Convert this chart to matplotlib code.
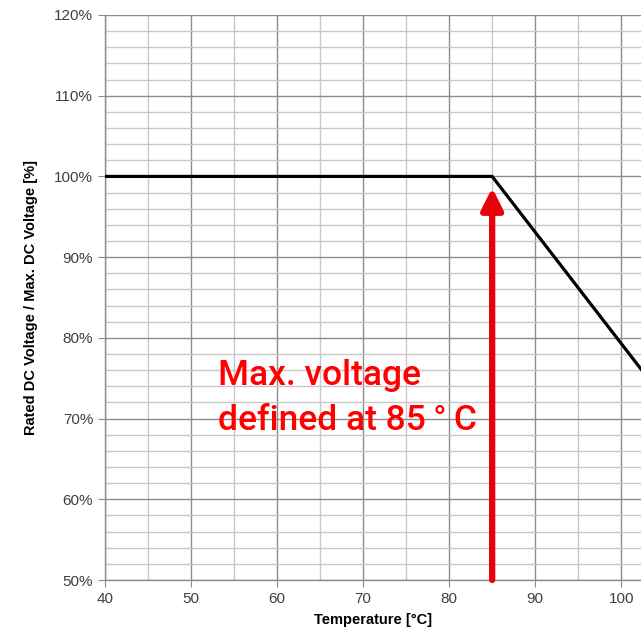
import matplotlib
matplotlib.use("Agg")
import matplotlib.pyplot as plt
from matplotlib.ticker import MultipleLocator, FuncFormatter

# derating curve
temps = [40, 85, 105]
ratio = [100, 100, 72.4]

arrow_x = 85
arrow_from = 50
arrow_to = 98.6

note_lines = ["Max. voltage", "defined at 85\u2009°\u2009C"]
note_y = [74.2, 68.6]

fig = plt.figure(figsize=(6.41, 6.31), dpi=100)
ax = fig.add_axes([105 / 641, 51 / 631, 1 - 105 / 641, 565 / 631])

ax.set_xlim(40, 102.3)
ax.set_ylim(50, 120)

ax.xaxis.set_major_locator(MultipleLocator(10))
ax.xaxis.set_minor_locator(MultipleLocator(5))
ax.yaxis.set_major_locator(MultipleLocator(10))
ax.yaxis.set_minor_locator(MultipleLocator(2))
ax.yaxis.set_major_formatter(FuncFormatter(lambda v, p: f"{v:.0f}%"))

ax.grid(which="major", color="#8c8c8c", lw=1.0)
ax.grid(which="minor", color="#c8c8c8", lw=1.0)
ax.set_axisbelow(True)

for s in ["top", "right"]:
    ax.spines[s].set_visible(False)
for s in ["left", "bottom"]:
    ax.spines[s].set_color("#8c8c8c")
    ax.spines[s].set_linewidth(1.0)

ax.tick_params(which="major", length=5, color="#8c8c8c", labelsize=11,
               labelcolor="#404040")
ax.tick_params(which="minor", length=0)
for lab in ax.get_xticklabels() + ax.get_yticklabels():
    lab.set_family("Liberation Sans")

ax.plot(temps, ratio, color="black", lw=2.3, solid_capstyle="butt", zorder=3)

ax.annotate("", xy=(arrow_x, arrow_to), xytext=(arrow_x, arrow_from),
            arrowprops=dict(arrowstyle="-|>,head_length=1.3,head_width=0.65",
                            color="#e8000b", lw=4.5, shrinkA=0, shrinkB=0),
            zorder=4)

for line, y in zip(note_lines, note_y):
    ax.text(53.1, y, line, color="#ff0000", fontsize=25.5, family="Roboto",
            fontweight="medium", va="baseline", ha="left")

ax.set_xlabel("Temperature [°C]", family="Liberation Sans", fontweight="bold",
              fontsize=10.5, labelpad=5)
ax.set_ylabel("Rated DC Voltage / Max. DC Voltage [%]", family="Liberation Sans",
              fontweight="bold", fontsize=10.5, labelpad=12)

fig.savefig("out.png", dpi=100)
